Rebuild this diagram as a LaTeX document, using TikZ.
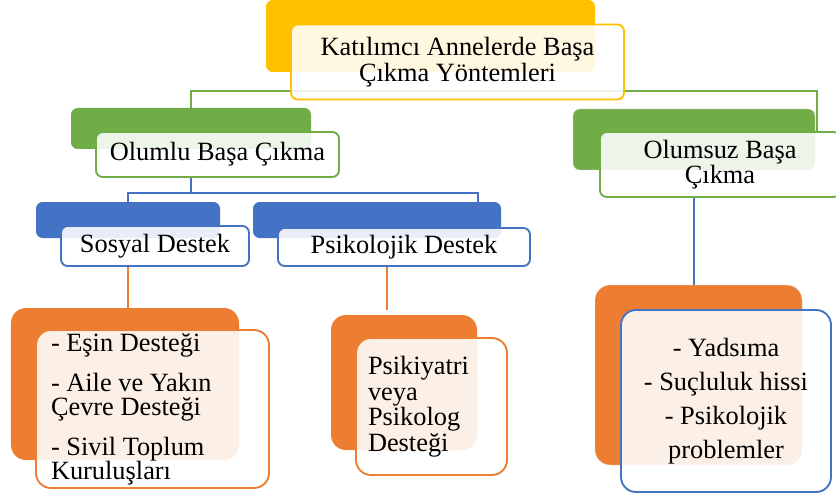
\documentclass[tikz,border=0pt]{standalone}
\usepackage{fontspec}
\setmainfont{Liberation Serif}
\usetikzlibrary{positioning}

\definecolor{gold}{HTML}{FFC000}
\definecolor{leaf}{HTML}{70AD47}
\definecolor{sky}{HTML}{4472C4}
\definecolor{rust}{HTML}{ED7D31}

\begin{document}
\begin{tikzpicture}[x=0.3mm,y=-0.3mm,
  back box/.style={fill=#1,draw=none,rounded corners=2mm,inner sep=0pt},
  front box/.style={draw=#1,fill=white,fill opacity=0.88,text opacity=1,
    line width=1.6pt,rounded corners=2mm,align=center,inner sep=0pt,
    font=\fontsize{22.5}{22}\selectfont},
  link/.style={draw=#1,line width=1.7pt}]

  \useasboundingbox (0,0) rectangle (836,497);
  \clip (0,0) rectangle (836,497);

  % back boxes
  \node[back box=gold,minimum width=98.7mm,minimum height=21.6mm] (topB) at (430.5,36) {};
  \node[back box=leaf,minimum width=72mm,minimum height=12.3mm] (olumluB) at (191,128.5) {};
  \node[back box=leaf,minimum width=72.6mm,minimum height=18.3mm,draw=black!12,thin] (olumsuzB) at (694,139.5) {};
  \node[back box=sky,minimum width=55.2mm,minimum height=10.8mm] (sosyalB) at (128,220) {};
  \node[back box=sky,minimum width=74.4mm,minimum height=10.8mm] (psikB) at (377,220) {};
  \node[back box=rust,rounded corners=4.5mm,minimum width=68.4mm,minimum height=45.6mm] (leftB) at (125,384) {};
  \node[back box=rust,rounded corners=4.5mm,minimum width=43.8mm,minimum height=40.5mm] (midB) at (404,382.5) {};
  \node[back box=rust,rounded corners=4.5mm,minimum width=62.1mm,minimum height=54mm,draw=black!12,thin] (rightB) at (698.5,375) {};

  % connectors
  \draw[link=leaf] (olumluB.north) -- ++(0,-17) -| ([xshift=37mm]olumsuzB.north |- 0,132);
  \draw[link=sky] (olumluB.center |- 0,177) -- (olumluB.center |- 0,193) -| (sosyalB.north);
  \draw[link=sky] (olumluB.center |- 0,193) -| (478,202);
  \draw[link=rust] (sosyalB.center |- 0,266) -- (sosyalB.center |- leftB.north);
  \draw[link=rust] (387,266) -- (387,310);
  \draw[link=sky] (olumsuzB.center |- 0,197) -- (olumsuzB.center |- rightB.north);

  % front boxes
  \node[front box=gold,minimum width=99.9mm,minimum height=22.5mm] (topF) at (457.5,62)
    {Katılımcı Annelerde Başa\\Çıkma Yöntemleri};
  \node[front box=leaf,minimum width=72.9mm,minimum height=13.5mm] (olumluF) at (217.5,154.5)
    {Olumlu Başa Çıkma};
  \node[front box=leaf,minimum width=72mm,minimum height=19.5mm,font=\fontsize{22.5}{21.3}\selectfont] (olumsuzF) at (720,164.5)
    {Olumsuz Başa\\Çıkma};
  \node[front box=sky,minimum width=56.4mm,minimum height=12mm] (sosyalF) at (155,246)
    {Sosyal Destek};
  \node[front box=sky,minimum width=75.6mm,minimum height=11.4mm] (psikF) at (404,247)
    {Psikolojik Destek};
  \node[front box=rust,rounded corners=4.5mm,align=left,text width=60.9mm,inner xsep=4.5mm,
    minimum width=69.9mm,minimum height=47.4mm,font=\fontsize{22.5}{20.5}\selectfont] (leftF) at (152.5,409)
    {\spaceskip=0pt\relax- Eşin Desteği\\[5mm]- Aile ve Yakın\\Çevre Desteği\\[4.6mm]- Sivil Toplum\\Kuruluşları};
  \node[front box=rust,rounded corners=4.5mm,align=left,text width=38.1mm,inner xsep=3.6mm,
    minimum width=45.3mm,minimum height=41.1mm,font=\fontsize{22.5}{21.8}\selectfont] (midF) at (431.5,406.5)
    {\spaceskip=0pt\relax Psikiyatri\\veya\\Psikolog\\Desteği};
  \node[front box=sky,rounded corners=4.5mm,minimum width=63mm,minimum height=54.6mm,
    font=\fontsize{22.5}{29}\selectfont] (rightF) at (726,401)
    {- Yadsıma\\- Suçluluk hissi\\- Psikolojik\\problemler};

\end{tikzpicture}
\end{document}
